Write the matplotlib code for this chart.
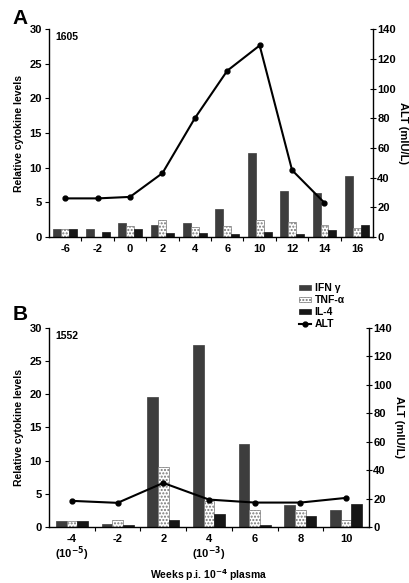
import matplotlib
matplotlib.use("Agg")
import matplotlib.pyplot as plt
import numpy as np

plt.rcParams['font.family'] = ['Liberation Sans', 'DejaVu Sans']
plt.rcParams['font.weight'] = 'bold'
plt.rcParams['mathtext.default'] = 'bf'

# Panel A (1605)
weeks_a = ["-6", "-2", "0", "2", "4", "6", "10", "12", "14", "16"]
ifn_a = [1.1, 1.2, 2.0, 1.7, 2.0, 4.0, 12.1, 6.6, 6.3, 8.8]
tnf_a = [1.1, 0.0, 1.6, 2.4, 1.5, 1.6, 2.4, 2.1, 1.7, 1.35]
il4_a = [1.1, 0.75, 1.1, 0.6, 0.6, 0.5, 0.7, 0.4, 1.0, 1.8]
alt_a = [26, 26, 27, 43, 80, 112, 129, 45, 23]

# Panel B (1552)
weeks_b = ["-4\n(10$^{-5}$)", "-2", "2", "4\n(10$^{-3}$)", "6", "8", "10"]
ifn_b = [0.9, 0.4, 19.6, 27.5, 12.5, 3.3, 2.6]
tnf_b = [0.9, 1.0, 9.0, 3.9, 2.5, 2.5, 1.1]
il4_b = [0.9, 0.35, 1.0, 1.9, 0.25, 1.6, 3.4]
alt_b = [18.4, 17, 31, 19.3, 17.2, 17.2, 20.5]

IFN_C = '#3d3d3d'
IL4_C = '#161616'

fig = plt.figure(figsize=(4.1, 5.83), dpi=100)


def panel(rect, cats, ifn, tnf, il4, alt, bw, label_id):
    ax = fig.add_axes(rect)
    x = np.arange(len(cats))
    b1 = ax.bar(x - bw, ifn, bw, color=IFN_C, edgecolor=IFN_C, linewidth=0.5, label='IFN γ')
    b2 = ax.bar(x, tnf, bw, color='white', edgecolor='#777777', hatch='.....', linewidth=0.5, label='TNF-α')
    b3 = ax.bar(x + bw, il4, bw, color=IL4_C, edgecolor=IL4_C, linewidth=0.5, label='IL-4')
    ax.set_xlim(-0.5, len(cats) - 0.5)
    ax.set_ylim(0, 30)
    ax.set_yticks([0, 5, 10, 15, 20, 25, 30])
    ax.set_xticks(x)
    ax.set_xticklabels(cats, fontsize=8, fontweight='bold', linespacing=1.0)
    ax.set_xticks(np.arange(len(cats) - 1) + 0.5, minor=True)
    ax.tick_params(axis='x', which='major', length=0, pad=5)
    ax.tick_params(axis='x', which='minor', length=3, direction='out', width=0.8)
    ax.tick_params(axis='y', labelsize=8, length=3, width=0.8, direction='out', pad=2)
    for lbl in ax.get_yticklabels():
        lbl.set_fontweight('bold')
    ax.spines['top'].set_visible(False)
    ax.spines['right'].set_visible(False)
    for s in ('left', 'bottom'):
        ax.spines[s].set_linewidth(1.0)
    ax.set_ylabel('Relative cytokine levels', fontsize=7.5, fontweight='bold', labelpad=4)
    ax.text(0.02, 0.985, label_id, transform=ax.transAxes, fontsize=7.5,
            fontweight='bold', va='top', ha='left')

    ax2 = ax.twinx()
    l, = ax2.plot(x[:len(alt)], alt, color='black', lw=1.5, marker='o', ms=3.5, label='ALT')
    ax2.set_ylim(0, 140)
    ax2.set_yticks([0, 20, 40, 60, 80, 100, 120, 140])
    ax2.tick_params(axis='y', labelsize=8, length=4, width=0.8, direction='inout', pad=1)
    for lbl in ax2.get_yticklabels():
        lbl.set_fontweight('bold')
    ax2.spines['top'].set_visible(False)
    ax2.spines['left'].set_visible(False)
    ax2.spines['bottom'].set_visible(False)
    ax2.spines['right'].set_linewidth(1.0)
    ax2.set_ylabel('ALT (mIU/L)', fontsize=8, fontweight='bold', rotation=270, labelpad=9)
    return ax, ax2, (b1, b2, b3, l)


axA, axA2, _ = panel([0.1195, 0.5935, 0.7905, 0.3565], weeks_a, ifn_a, tnf_a, il4_a, alt_a, 0.245, '1605')
axB, axB2, handles = panel([0.1195, 0.096, 0.7805, 0.3415], weeks_b, ifn_b, tnf_b, il4_b, alt_b, 0.233, '1552')
axB.set_xlabel('Weeks p.i. 10$^{-4}$ plasma', fontsize=7.5, fontweight='bold', labelpad=3)

fig.text(0.03, 0.968, 'A', fontsize=15, fontweight='bold', ha='left', va='center')
fig.text(0.03, 0.46, 'B', fontsize=15, fontweight='bold', ha='left', va='center')

fig.legend(handles, ['IFN γ', 'TNF-α', 'IL-4', 'ALT'], loc='upper left',
           bbox_to_anchor=(0.715, 0.525), frameon=False, fontsize=7.5,
           handlelength=1.1, handleheight=0.45, labelspacing=0.2, handletextpad=0.35,
           borderpad=0.1)

fig.savefig('out.png', dpi=100)
